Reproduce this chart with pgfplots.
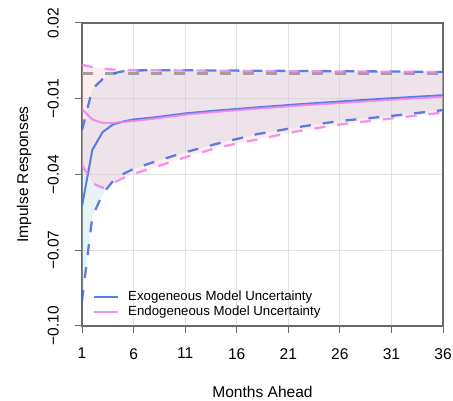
\documentclass[border=0pt]{standalone}
\usepackage{pgfplots}
\pgfplotsset{compat=1.18}
\usepgfplotslibrary{fillbetween}
\usepackage{fontspec}
\setmainfont{Liberation Sans}
\definecolor{rblue}{RGB}{65,105,225}
\definecolor{rpink}{RGB}{238,130,238}
\definecolor{bfill}{RGB}{173,216,230}
\definecolor{pfill}{RGB}{255,192,203}
\definecolor{framegray}{RGB}{105,105,105}
\definecolor{gridgray}{RGB}{225,225,225}
\definecolor{zerogray}{RGB}{160,160,160}

% month, exogeneous: median, lower, upper
\pgfplotstableread{
m   med      lo      hi
1  -0.0525  -0.0900  -0.0224
2  -0.0303  -0.0568  -0.0062
3  -0.0232  -0.0477  -0.0022
4  -0.0202  -0.0426   0.0000
5  -0.0190  -0.0398   0.0009
6  -0.0182  -0.0378   0.0012
8  -0.0174  -0.0350   0.0013
11 -0.0158  -0.0312   0.0013
14 -0.0147  -0.0279   0.0012
18 -0.0134  -0.0240   0.0011
22 -0.0122  -0.0212   0.0010
26 -0.0111  -0.0188   0.0009
31 -0.0098  -0.0168   0.0008
36 -0.0086  -0.0145   0.0006
}\exo
\pgfplotstableread{
m   med      lo      hi
1  -0.0141  -0.0362   0.0035
2  -0.0182  -0.0434   0.0025
3  -0.0196  -0.0453   0.0019
4  -0.0196  -0.0434   0.0016
5  -0.0192  -0.0414   0.0014
6  -0.0188  -0.0398   0.0013
8  -0.0179  -0.0372   0.0013
11 -0.0163  -0.0332   0.0012
14 -0.0152  -0.0295   0.0011
18 -0.0139  -0.0261   0.0010
22 -0.0127  -0.0228   0.0009
26 -0.0117  -0.0202   0.0008
31 -0.0104  -0.0178   0.0007
36 -0.0092  -0.0155   0.0006
}\endo

\begin{document}
\begin{tikzpicture}
\begin{axis}[
  at={(82bp,75bp)}, anchor=south west,
  scale only axis, width=361bp, height=303bp,
  xmin=1, xmax=36, ymin=-0.10, ymax=0.02,
  xtick={1,6,11,16,21,26,31,36},
  xticklabels={1,6,11,16,21,26,31,36},
  ytick={-0.10,-0.07,-0.04,-0.01,0.02},
  yticklabels={−0.10,−0.07,−0.04,−0.01,0.02},
  tick pos=left, tick align=outside, major tick length=7bp,
  tick style={draw=framegray, line width=1bp},
  axis line style={draw=framegray, line width=1.2bp},
  grid=major, major grid style={draw=gridgray, line width=0.8bp},
  ticklabel style={font=\fontsize{15.6}{18}\selectfont},
  xticklabel style={anchor=north, inner sep=0pt, yshift=-15bp},
  yticklabel style={xshift=-16bp, rotate=90, anchor=south, inner sep=0pt},
  every axis x label/.style={at={(rel axis cs:0.5,0)}, anchor=north, inner sep=0pt, yshift=-60bp, font=\fontsize{15.6}{18}\selectfont},
  every axis y label/.style={at={(rel axis cs:0,0.5)}, xshift=-54bp, rotate=90, anchor=base, inner sep=0pt, font=\fontsize{15.6}{18}\selectfont},
  xlabel={Months Ahead},
  ylabel={Impulse Responses},
  legend style={at={(rel axis cs:0,0)}, anchor=south west, xshift=11bp, yshift=7bp,
    draw=none, fill=none, inner sep=0pt, row sep=2.5bp, column sep=9bp,
    font=\fontsize{13.3}{15.3}\selectfont,
    nodes={inner sep=0pt, text height=10bp, text depth=3bp}},
  legend cell align=left,
  legend image code/.code={\draw[#1] (0bp,0bp) -- (24bp,0bp);},
]
% bands
\addplot[name path=bhi, draw=none, forget plot] table[x=m,y=hi] {\exo};
\addplot[name path=blo, draw=none, forget plot] table[x=m,y=lo] {\exo};
\addplot[name path=phi, draw=none, forget plot] table[x=m,y=hi] {\endo};
\addplot[name path=plo, draw=none, forget plot] table[x=m,y=lo] {\endo};
\addplot[fill=bfill, fill opacity=0.3, draw=none, forget plot] fill between[of=bhi and blo];
\addplot[fill=pfill, fill opacity=0.3, draw=none, forget plot] fill between[of=phi and plo];
% zero line
\addplot[zerogray, line width=2.3bp, dash pattern=on 11bp off 12bp, forget plot] coordinates {(1,0) (36,0)};
% exogeneous
\addplot[rblue, line width=2bp, opacity=0.85] table[x=m,y=med] {\exo};
\addlegendentry{Exogeneous Model Uncertainty}
\addplot[rblue, line width=2.3bp, opacity=0.85, dash pattern=on 11bp off 12bp, forget plot] table[x=m,y=lo] {\exo};
\addplot[rblue, line width=2.3bp, opacity=0.85, dash pattern=on 11bp off 12bp, forget plot] table[x=m,y=hi] {\exo};
% endogeneous
\addplot[rpink, line width=2bp, opacity=0.85] table[x=m,y=med] {\endo};
\addlegendentry{Endogeneous Model Uncertainty}
\addplot[rpink, line width=2.3bp, opacity=0.85, dash pattern=on 11bp off 12bp, forget plot] table[x=m,y=lo] {\endo};
\addplot[rpink, line width=2.3bp, opacity=0.85, dash pattern=on 11bp off 12bp, forget plot] table[x=m,y=hi] {\endo};
\end{axis}
\pgfresetboundingbox
\useasboundingbox (0,0) rectangle (453bp,401bp);
\end{tikzpicture}
\end{document}
